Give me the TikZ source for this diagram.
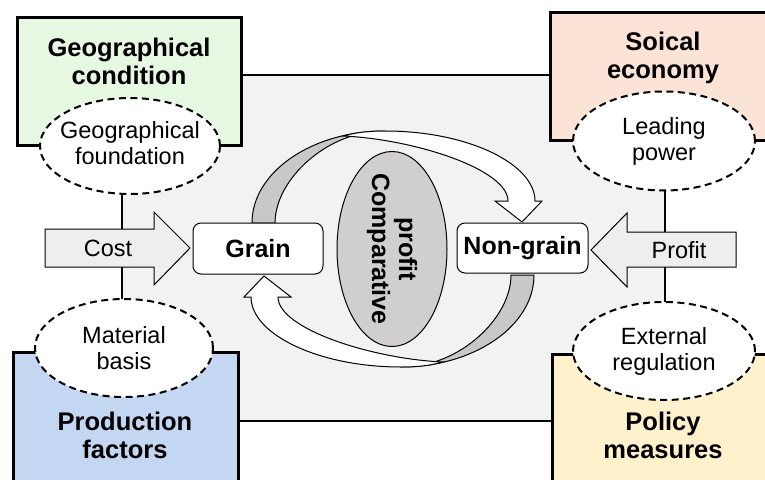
\documentclass[tikz,border=0pt]{standalone}
\usepackage{fontspec}
\newfontfamily\labfont{Liberation Sans}
\usetikzlibrary{
    positioning,
    shapes.geometric
}
\definecolor{geo green}{RGB}{230,248,226}
\definecolor{eco peach}{RGB}{251,227,214}
\definecolor{prod blue}{RGB}{196,215,242}
\definecolor{policy yellow}{RGB}{255,241,204}
\definecolor{field gray}{RGB}{242,242,242}
\definecolor{push gray}{RGB}{238,238,238}
\definecolor{band gray}{RGB}{200,200,200}
\definecolor{core gray}{RGB}{208,206,206}
\tikzset{
    % Boxes
    factor box/.style={draw=black,line width=3pt},
    title text/.style={align=center,font=\labfont\bfseries\fontsize{25.5}{28}\selectfont},
    %
    % Dashed ellipses
    sub ellipse/.style={ellipse,draw=black,fill=white,line width=2pt,
        dash pattern=on 7pt off 4.5pt,inner sep=0pt},
    sub text/.style={align=center,font=\labfont\fontsize{23.5}{26}\selectfont},
    %
    % Grain / non-grain
    stage box/.style={rectangle,rounded corners=8pt,draw=black,fill=white,
        line width=1pt,font=\labfont\bfseries\fontsize{25}{27}\selectfont},
    %
    % Arrows
    push arrow/.style={draw=black,fill=push gray,line width=1pt},
    turn band/.style={draw=black,fill=band gray,line width=1pt,line join=round},
    turn face/.style={draw=black,fill=white,line width=1pt,line join=miter}
}

\begin{document}
\begin{tikzpicture}[x=1pt,y=-1pt]
    \clip (0,0) rectangle (765,479);
    \fill[white] (0,0) rectangle (765,479);
    % field behind everything
    \draw[fill=field gray,line width=2pt] (122,75) rectangle (665,421);
    % corner boxes
    \draw[factor box,fill=geo green] (17,17) rectangle (241,145);
    \draw[factor box,fill=eco peach] (550,12) rectangle (780,140);
    \draw[factor box,fill=prod blue] (13,352) rectangle (238,495);
    \draw[factor box,fill=policy yellow] (552,354) rectangle (780,495);
    \node[title text] (geo title) at (129,61) {Geographical\\condition};
    \node[title text] (eco title) at (663,58) {Soical\\economy};
    \node[title text] (prod title) at (125,435) {Production\\factors};
    \node[title text] (policy title) at (663,435) {Policy\\measures};
    % dashed ellipses
    \node[sub ellipse,minimum width=180pt,minimum height=96pt] (geo ell) at (130,146) {};
    \node[sub ellipse,minimum width=182pt,minimum height=99pt] (eco ell) at (664,141) {};
    \node[sub ellipse,minimum width=178pt,minimum height=98pt] (prod ell) at (124,348) {};
    \node[sub ellipse,minimum width=182pt,minimum height=98pt] (policy ell) at (664,351) {};
    \node[sub text] (geo sub) at ([yshift=3pt]geo ell.center) {Geographical\\foundation};
    \node[sub text] (eco sub) at (eco ell.center) {Leading\\power};
    \node[sub text] (prod sub) at (prod ell.center) {Material\\basis};
    \node[sub text] (policy sub) at (policy ell.center) {External\\regulation};
    % cost and profit
    \draw[push arrow] (45,229) -- (154,229) -- (154,212) -- (190,248) -- (154,285)
        -- (154,267) -- (45,267) -- cycle;
    \draw[push arrow] (736,232) -- (627,232) -- (627,213) -- (591,250) -- (627,287)
        -- (627,267) -- (736,267) -- cycle;
    \node[sub text] (cost) at (108,248) {Cost};
    \node[sub text] (profit) at (679,250) {Profit};
    % turning arrows, second one is the first turned round
    \foreach \turn in {0,180}{
        \begin{scope}[shift={(393,249)},rotate=\turn]
            \draw[turn band] (-141,-26) .. controls (-141,-77) and (-81,-118) .. (-8,-118)
                -- (-15,-117) .. controls (-65,-117) and (-118,-70) .. (-118,-26) -- cycle;
            \draw[turn face] (-50,-113) .. controls (-36,-117) and (-22,-118) .. (-8,-118)
                .. controls (75,-118) and (142,-85) .. (142,-48)
                -- (149,-48) -- (129,-27) -- (102,-48) -- (115,-48)
                .. controls (115,-80) and (20,-110) .. (-50,-113) -- cycle;
        \end{scope}
    }
    % comparative profit
    \node[ellipse,draw=black,fill=core gray,line width=1pt,inner sep=0pt,
        minimum width=110pt,minimum height=195pt] (core) at (392,249) {};
    \node[rotate=-90,align=center,font=\labfont\bfseries\fontsize{25}{27}\selectfont]
        (core text) at (core.center) {profit\\Comparative};
    % grain and non-grain
    \node[stage box,minimum width=130pt,minimum height=51pt] (grain) at (258,248.5) {Grain};
    \node[stage box,minimum width=131pt,minimum height=50pt] (nongrain) at (522.5,248) {Non-grain};
\end{tikzpicture}
\end{document}
